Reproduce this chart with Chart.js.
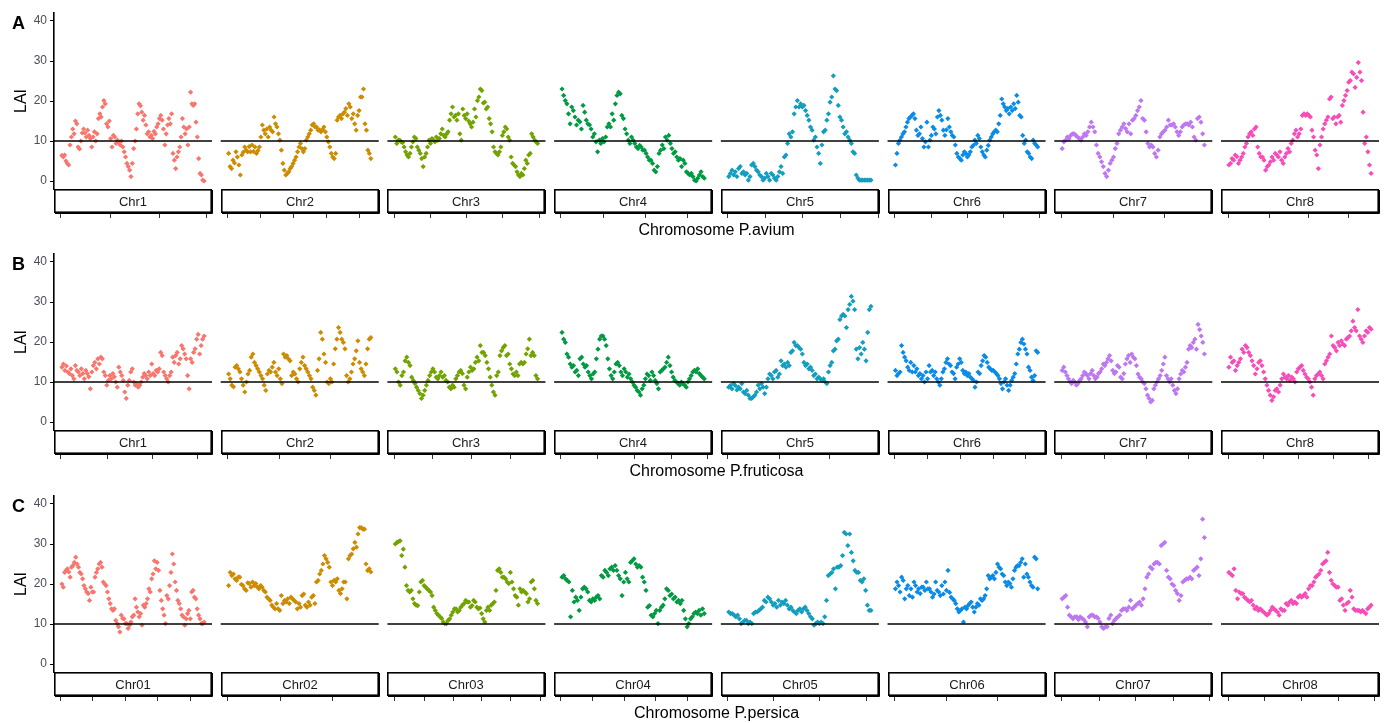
<!DOCTYPE html>
<html>
<head>
<meta charset="utf-8">
<script src="https://cdn.jsdelivr.net/npm/chart.js@4.4.0/dist/chart.umd.min.js"></script>
<style>
  body { margin: 0; background: #fff; width: 1387px; height: 723px; overflow: hidden; position: relative; }
  .row { position: absolute; left: 0; width: 1387px; height: 241px; }
</style>
</head>
<body>
<div class="row" style="top:0px"><canvas id="rowA" width="1387" height="241"></canvas></div>
<div class="row" style="top:241px"><canvas id="rowB" width="1387" height="241"></canvas></div>
<div class="row" style="top:483px"><canvas id="rowC" width="1387" height="241"></canvas></div>
<script>
// colours per chromosome (same in every panel)
const chrColors = ['#F8766D', '#CD8B00', '#72A300', '#019A42', '#139DBE', '#0A8BE8', '#BE77F2', '#F74DB8'];

const yTicks = [0, 10, 20, 30, 40];
const LAI_LINE = 10;

// ---- Panel A : P.avium ----
const avNames = ['Chr1', 'Chr2', 'Chr3', 'Chr4', 'Chr5', 'Chr6', 'Chr7', 'Chr8'];
const avChr1 = [6.4, 6.0, 6.5, 5.0, 4.4, 4.0, 9.0, 11.0, 13.0, 11.8, 15.0, 14.3, 8.5, 8.0, 10.0, 12.0, 13.0, 12.0, 11.0, 12.7, 11.4, 10.6, 8.5, 11.0, 12.3, 10.0, 11.8, 15.6, 16.8, 16.0, 18.5, 20.1, 19.3, 14.3, 13.5, 15.0, 10.6, 8.5, 11.4, 11.0, 9.4, 10.2, 9.8, 9.0, 10.0, 8.5, 7.3, 6.0, 4.4, 3.6, 2.7, 1.1, 4.4, 8.1, 10.0, 13.0, 16.8, 19.3, 18.8, 17.2, 15.2, 16.4, 14.0, 11.8, 12.3, 11.0, 11.4, 10.6, 12.4, 11.8, 13.5, 14.3, 15.6, 16.4, 15.2, 13.0, 9.0, 11.8, 14.0, 15.6, 14.3, 16.8, 6.9, 5.2, 3.1, 6.0, 7.3, 8.5, 11.0, 15.6, 13.5, 11.8, 13.0, 9.0, 13.5, 22.2, 19.3, 18.9, 19.3, 14.7, 11.0, 5.6, 1.9, 1.5, 0.2, 0.0];
const avChr2 = [6.9, 3.6, 3.1, 5.2, 4.5, 7.3, 6.0, 4.0, 1.5, 6.5, 7.2, 8.5, 7.7, 7.3, 8.6, 7.3, 9.0, 7.4, 8.5, 6.9, 7.6, 8.5, 11.0, 14.0, 12.7, 11.8, 13.0, 11.0, 13.5, 12.7, 12.3, 16.0, 14.3, 13.5, 11.8, 10.2, 7.7, 4.4, 2.7, 1.5, 1.9, 2.3, 3.1, 3.6, 4.4, 5.2, 6.0, 7.3, 8.5, 9.4, 8.1, 7.3, 8.1, 10.2, 11.0, 11.8, 12.7, 14.0, 14.3, 13.5, 13.5, 12.7, 12.8, 12.3, 12.8, 13.5, 12.3, 11.0, 9.8, 8.5, 6.9, 6.0, 5.6, 6.9, 15.2, 16.0, 16.4, 15.6, 16.8, 17.2, 18.1, 16.4, 19.3, 18.5, 15.6, 16.8, 14.3, 12.7, 16.4, 17.6, 21.0, 21.0, 23.0, 14.3, 12.7, 7.7, 6.9, 5.6];
const avChr3 = [11.0, 9.4, 10.2, 10.2, 9.8, 9.6, 8.5, 7.3, 6.5, 6.0, 6.9, 8.5, 9.8, 11.0, 10.6, 8.5, 7.7, 6.9, 5.6, 3.6, 6.0, 6.9, 8.5, 10.2, 9.4, 10.6, 10.2, 9.8, 11.0, 10.2, 10.6, 11.8, 13.0, 11.4, 11.0, 11.8, 12.3, 15.2, 16.8, 18.5, 16.0, 16.4, 15.2, 16.8, 11.8, 10.2, 18.0, 16.4, 15.6, 16.8, 15.0, 14.3, 13.5, 14.7, 18.0, 16.0, 20.1, 21.0, 23.0, 22.6, 19.5, 19.7, 18.0, 18.5, 15.6, 14.3, 12.3, 8.5, 7.3, 6.9, 6.5, 7.3, 8.5, 11.4, 12.3, 13.5, 13.0, 11.0, 10.2, 6.0, 4.4, 4.0, 3.6, 2.3, 1.5, 1.1, 1.9, 1.5, 3.1, 5.2, 4.4, 6.5, 6.9, 11.8, 11.0, 10.2, 9.8, 9.4];
const avChr4 = [23.0, 21.4, 20.1, 19.3, 16.8, 14.3, 18.5, 17.6, 16.0, 14.0, 15.2, 14.8, 13.0, 18.9, 17.2, 15.2, 14.3, 14.0, 13.0, 11.0, 11.8, 9.8, 7.3, 10.2, 9.4, 10.6, 9.8, 11.0, 13.5, 14.3, 13.5, 16.8, 15.2, 19.3, 21.4, 22.2, 21.8, 16.4, 15.6, 13.0, 11.8, 10.2, 9.4, 11.0, 10.2, 9.4, 8.5, 8.1, 8.9, 8.5, 7.7, 7.7, 6.9, 6.0, 5.2, 5.2, 4.4, 2.7, 2.3, 3.6, 6.9, 7.7, 9.0, 8.1, 11.0, 10.2, 11.4, 9.4, 8.1, 6.9, 7.3, 6.0, 5.2, 5.6, 3.6, 5.2, 4.4, 2.3, 1.9, 1.5, 1.9, 1.1, 0.2, 0.0, 0.7, 1.5, 2.3, 1.1, 0.7];
const avChr5 = [1.1, 1.9, 2.7, 1.5, 2.3, 1.1, 3.1, 3.6, 1.9, 2.3, 1.5, 1.9, 0.2, 1.1, 4.0, 4.4, 3.6, 2.7, 2.3, 1.5, 1.1, 0.2, 0.7, 1.9, 1.1, 0.2, 1.9, 1.5, 0.7, 0.2, 1.1, 2.3, 3.6, 1.9, 6.0, 6.5, 9.4, 11.8, 11.0, 12.3, 16.8, 18.5, 20.1, 18.5, 19.3, 18.5, 18.9, 17.6, 16.4, 15.2, 13.5, 12.7, 10.2, 11.0, 8.5, 6.9, 4.4, 9.0, 12.3, 12.7, 15.2, 16.8, 19.7, 21.0, 26.3, 23.0, 22.6, 18.9, 16.0, 15.2, 13.5, 11.8, 12.3, 11.0, 10.2, 9.4, 7.3, 6.9, 1.5, 0.7, 0.2, 0.2, 0.2, 0.2, 0.2, 0.2, 0.2, 0.2];
const avChr6 = [4.0, 6.9, 9.4, 10.2, 11.0, 11.8, 12.3, 13.5, 14.7, 15.6, 16.0, 16.4, 16.8, 15.6, 12.7, 11.4, 11.8, 13.5, 10.6, 8.5, 9.8, 14.7, 8.5, 10.2, 11.4, 13.5, 13.0, 11.8, 16.0, 17.6, 16.4, 15.2, 12.7, 11.4, 12.8, 15.6, 13.5, 12.3, 11.4, 11.0, 9.0, 6.9, 6.0, 5.6, 5.2, 6.5, 7.3, 6.9, 6.0, 6.5, 7.3, 8.5, 8.9, 10.2, 9.4, 11.4, 10.6, 8.5, 7.3, 6.5, 6.0, 7.7, 8.9, 10.2, 11.0, 11.8, 12.3, 12.7, 12.3, 14.3, 16.4, 20.5, 19.3, 18.5, 17.6, 18.1, 16.8, 18.5, 17.6, 19.3, 18.1, 21.4, 19.7, 16.4, 16.0, 11.4, 9.4, 10.2, 7.3, 6.9, 6.0, 5.6, 10.2, 9.4, 9.0, 8.5];
const avChr7 = [8.1, 9.8, 10.2, 11.0, 10.6, 11.4, 11.8, 11.8, 11.4, 11.0, 10.6, 10.2, 11.0, 11.8, 11.4, 12.3, 13.5, 14.7, 13.5, 12.3, 9.0, 6.9, 6.0, 4.8, 3.6, 1.9, 1.1, 2.7, 4.4, 5.2, 6.0, 8.1, 9.4, 11.8, 12.7, 13.5, 14.3, 13.1, 12.3, 14.3, 11.8, 15.2, 15.6, 16.4, 17.6, 18.5, 20.1, 15.6, 15.2, 12.3, 9.4, 8.5, 9.0, 8.5, 6.9, 6.0, 7.7, 11.0, 11.8, 12.3, 12.7, 13.5, 15.2, 14.0, 14.0, 14.3, 13.5, 12.3, 11.4, 12.3, 13.5, 14.0, 14.3, 14.3, 14.0, 14.7, 13.5, 11.0, 10.2, 15.6, 16.0, 14.7, 11.8, 9.0];
const avChr8 = [4.0, 4.4, 5.6, 5.2, 6.5, 6.1, 4.4, 5.2, 6.0, 6.9, 8.5, 9.4, 11.0, 11.8, 12.3, 11.4, 13.0, 13.5, 8.5, 6.9, 6.0, 6.0, 5.2, 2.7, 3.6, 4.0, 4.8, 6.0, 5.2, 6.9, 6.5, 6.0, 7.3, 5.2, 4.4, 6.0, 6.9, 8.1, 7.3, 9.4, 10.2, 11.8, 12.7, 11.0, 11.8, 13.0, 16.4, 16.8, 16.4, 16.8, 16.4, 16.0, 12.7, 11.0, 7.7, 6.5, 3.1, 9.0, 11.0, 13.0, 14.3, 15.2, 16.0, 20.5, 21.0, 15.6, 16.0, 14.3, 16.0, 16.4, 14.7, 18.9, 20.1, 21.4, 22.6, 24.7, 25.1, 27.2, 26.8, 23.4, 25.9, 29.6, 27.2, 25.1, 17.2, 9.4, 11.0, 7.3, 4.0, 1.9];
// x tick positions along each facet (0-100 of the facet width)
const avTicks = [[3.6, 35.3, 66.3, 96.4], [4.0, 25.1, 45.8, 66.5, 87.3], [3.9, 27.2, 50.0, 72.8, 95.8], [3.8, 30.8, 57.2, 84.0],
                 [3.8, 28.0, 51.6, 75.5, 99.4], [3.8, 27.2, 50.4, 73.2, 95.8], [4.2, 36.9, 69.6], [4.2, 30.2, 55.3, 80.2]];

// ---- Panel B : P.fruticosa ----
const frNames = ['Chr1', 'Chr2', 'Chr3', 'Chr4', 'Chr5', 'Chr6', 'Chr7', 'Chr8'];
const frChr1 = [13.7, 14.5, 12.9, 14.0, 12.5, 12.1, 13.3, 11.6, 10.8, 14.1, 12.9, 12.5, 11.6, 13.3, 12.1, 10.8, 12.9, 12.1, 11.3, 8.3, 12.5, 14.1, 14.9, 13.3, 15.8, 14.5, 16.2, 15.8, 12.5, 11.6, 9.2, 10.4, 11.6, 10.8, 12.1, 11.3, 10.0, 8.7, 13.7, 12.5, 11.6, 10.4, 7.5, 5.9, 9.2, 10.4, 12.5, 13.3, 10.0, 9.2, 9.6, 8.7, 9.2, 10.0, 11.2, 12.1, 11.6, 10.8, 12.5, 11.6, 14.5, 12.1, 11.6, 12.9, 12.5, 13.3, 17.4, 16.6, 12.5, 11.6, 10.8, 10.0, 11.6, 12.5, 16.2, 14.9, 16.6, 17.4, 14.5, 15.8, 19.1, 18.3, 17.0, 15.8, 11.6, 8.3, 15.8, 14.9, 17.4, 18.3, 20.7, 21.9, 17.0, 19.1, 20.7, 21.5];
const frChr2 = [12.0, 10.8, 9.2, 8.8, 13.7, 14.1, 13.3, 12.5, 10.8, 9.2, 7.5, 10.0, 12.0, 12.9, 16.2, 17.0, 14.9, 14.1, 13.3, 12.5, 11.6, 10.8, 9.2, 7.9, 12.0, 12.9, 12.5, 13.7, 14.9, 12.5, 11.6, 13.3, 10.8, 9.6, 17.0, 16.2, 16.6, 15.8, 15.3, 11.6, 12.5, 12.0, 10.8, 10.0, 13.3, 14.9, 16.2, 14.1, 13.3, 12.5, 11.6, 10.8, 8.7, 7.9, 6.7, 12.9, 15.8, 22.4, 20.7, 17.0, 14.9, 10.0, 9.6, 10.8, 10.0, 14.5, 18.3, 20.7, 23.6, 22.4, 20.7, 19.9, 18.3, 11.6, 10.0, 10.8, 12.5, 14.5, 15.8, 17.8, 20.3, 14.9, 13.3, 12.5, 11.6, 14.5, 18.3, 20.7, 21.1];
const frChr3 = [13.3, 12.5, 10.0, 9.2, 11.6, 12.5, 15.3, 16.2, 14.9, 14.1, 11.2, 10.4, 9.6, 8.7, 7.9, 7.1, 5.9, 6.7, 7.9, 9.2, 10.4, 11.6, 12.5, 13.3, 12.5, 11.2, 10.8, 11.6, 12.5, 11.2, 11.6, 10.4, 10.0, 8.7, 8.3, 9.2, 8.7, 10.8, 11.6, 12.5, 12.9, 12.1, 9.2, 8.3, 11.2, 12.5, 13.7, 12.9, 13.3, 14.9, 16.2, 15.3, 19.1, 17.4, 17.4, 16.6, 14.9, 13.3, 11.2, 9.2, 7.5, 6.7, 11.6, 12.5, 16.6, 17.8, 18.6, 19.1, 16.6, 17.0, 14.5, 13.3, 12.0, 11.6, 12.5, 11.6, 14.5, 14.9, 14.5, 14.9, 17.0, 18.3, 20.7, 16.6, 17.4, 16.6, 11.6, 10.8];
const frChr4 = [22.4, 20.7, 19.9, 17.0, 16.2, 14.5, 13.7, 14.1, 12.5, 12.9, 11.6, 15.8, 16.2, 14.5, 13.7, 14.1, 12.5, 11.6, 10.8, 12.0, 12.5, 15.8, 18.2, 20.7, 21.5, 21.5, 20.7, 19.1, 15.8, 13.3, 11.6, 10.8, 12.5, 14.5, 14.9, 14.1, 12.5, 11.6, 13.3, 12.5, 11.2, 12.0, 10.8, 10.0, 9.2, 8.7, 7.9, 7.5, 6.7, 8.3, 9.2, 10.8, 12.0, 11.6, 10.4, 12.5, 11.6, 10.4, 9.6, 8.3, 12.5, 12.9, 13.3, 13.7, 14.9, 16.2, 14.1, 12.5, 11.2, 10.4, 10.0, 9.6, 9.2, 10.0, 9.6, 9.2, 8.7, 10.0, 10.8, 11.6, 12.5, 12.9, 12.5, 13.3, 12.1, 11.6, 11.2, 10.8];
const frChr5 = [8.7, 9.1, 8.3, 9.6, 9.1, 8.0, 8.7, 8.3, 9.6, 7.5, 7.1, 7.9, 6.7, 5.9, 5.9, 6.3, 6.7, 7.5, 9.2, 8.3, 9.6, 8.7, 7.1, 8.7, 10.8, 12.0, 11.6, 10.8, 12.5, 12.9, 11.2, 12.0, 15.3, 14.1, 14.5, 13.7, 14.9, 14.1, 17.4, 17.8, 19.9, 19.1, 19.1, 18.6, 18.2, 17.0, 14.9, 14.1, 14.5, 13.3, 13.7, 12.9, 11.6, 12.0, 10.8, 11.2, 10.8, 10.4, 10.8, 10.0, 9.6, 12.5, 14.1, 14.9, 17.8, 18.2, 20.3, 20.7, 25.6, 26.5, 26.9, 26.5, 23.6, 28.1, 29.4, 31.4, 30.2, 28.1, 18.2, 15.8, 18.6, 17.0, 19.9, 18.2, 15.3, 22.4, 28.1, 28.9];
const frChr6 = [12.9, 11.6, 12.1, 12.5, 19.1, 17.4, 16.2, 15.3, 13.7, 12.9, 14.9, 12.5, 14.1, 12.5, 13.3, 11.6, 12.1, 10.8, 11.6, 10.0, 12.5, 10.8, 14.1, 12.5, 12.9, 11.6, 12.5, 10.8, 10.0, 9.2, 10.8, 12.5, 13.3, 14.9, 15.8, 14.5, 14.1, 12.5, 12.1, 10.8, 13.7, 14.5, 15.8, 14.9, 12.9, 12.1, 12.5, 11.6, 12.1, 11.2, 10.8, 10.4, 8.7, 10.0, 12.5, 12.1, 14.1, 15.3, 16.6, 16.2, 14.9, 13.7, 13.3, 12.9, 12.9, 12.5, 12.1, 11.6, 10.8, 9.6, 8.3, 10.0, 10.8, 9.2, 7.9, 9.2, 10.4, 11.2, 12.1, 14.5, 17.0, 18.2, 19.9, 20.7, 19.5, 18.2, 17.0, 13.7, 12.9, 11.2, 10.4, 11.6, 17.8, 17.4];
const frChr7 = [12.9, 13.7, 12.5, 11.6, 10.8, 10.0, 9.6, 10.4, 10.0, 9.2, 9.6, 10.4, 10.8, 11.6, 12.5, 12.1, 11.6, 10.8, 12.1, 12.9, 11.6, 10.8, 11.2, 12.1, 12.5, 13.3, 14.5, 14.1, 14.9, 15.8, 16.6, 15.3, 12.9, 12.1, 12.5, 14.1, 13.7, 11.2, 10.8, 12.1, 14.5, 15.8, 16.6, 14.9, 17.0, 16.2, 15.8, 14.1, 12.0, 11.2, 10.8, 10.0, 9.6, 8.3, 6.7, 5.9, 5.0, 5.4, 8.3, 9.2, 10.0, 10.8, 11.6, 12.9, 14.5, 16.2, 11.6, 10.8, 10.0, 10.8, 9.2, 7.9, 7.1, 8.3, 10.8, 12.0, 12.9, 12.5, 13.7, 14.9, 18.2, 19.1, 18.6, 19.9, 20.7, 18.2, 24.4, 23.1, 21.5, 19.9, 17.0];
const frChr8 = [13.7, 16.2, 14.9, 15.3, 12.9, 14.1, 14.9, 15.8, 18.2, 17.4, 19.1, 18.6, 17.4, 16.6, 15.3, 14.1, 12.0, 13.3, 14.9, 15.3, 14.1, 12.5, 10.8, 9.2, 7.9, 6.7, 5.4, 6.3, 7.9, 8.3, 7.5, 9.2, 10.8, 12.0, 11.2, 10.8, 11.6, 10.4, 11.2, 10.8, 10.0, 12.5, 13.3, 13.7, 14.1, 12.9, 12.0, 11.2, 10.8, 10.0, 8.7, 6.7, 10.8, 11.6, 12.0, 12.5, 11.6, 10.8, 14.5, 15.3, 16.2, 17.0, 21.5, 19.1, 18.6, 17.8, 19.9, 19.1, 20.3, 19.5, 19.1, 20.7, 21.1, 21.5, 22.8, 25.2, 23.6, 22.8, 28.1, 21.5, 20.7, 19.9, 21.5, 22.8, 22.4, 23.6, 23.2];
const frTicks = [[3.6, 33.5, 62.3, 90.5], [4.0, 37.0, 69.0], [4.0, 28.5, 52.8, 77.7], [3.8, 27.4, 50.6, 74.1, 97.0],
                 [3.8, 36.9, 68.5], [3.8, 25.1, 45.6, 67.0, 87.0], [4.2, 31.2, 58.0, 84.8], [4.2, 26.4, 49.0, 70.7, 93.3]];

// ---- Panel C : P.persica ----
const peNames = ['Chr01', 'Chr02', 'Chr03', 'Chr04', 'Chr05', 'Chr06', 'Chr07', 'Chr08'];
const peChr01 = [20.0, 19.2, 22.9, 23.4, 23.8, 23.0, 21.7, 24.2, 24.6, 25.4, 26.7, 25.0, 24.2, 22.9, 22.5, 21.3, 19.6, 18.8, 18.0, 17.6, 15.9, 19.2, 18.0, 18.0, 21.7, 22.9, 23.8, 25.0, 25.4, 24.2, 20.5, 20.0, 19.6, 18.0, 16.3, 15.1, 13.8, 13.4, 13.8, 10.9, 10.1, 9.3, 8.0, 12.2, 11.4, 11.3, 10.1, 10.1, 8.9, 9.7, 10.5, 11.8, 12.2, 16.3, 14.2, 13.0, 11.8, 12.6, 9.7, 14.7, 14.2, 15.1, 16.3, 18.8, 18.0, 21.3, 22.5, 25.8, 23.8, 25.4, 23.4, 18.4, 15.9, 13.8, 12.2, 10.1, 17.1, 16.3, 19.6, 22.9, 27.5, 25.0, 20.5, 18.4, 15.9, 15.1, 13.8, 12.2, 11.8, 9.7, 11.3, 12.6, 13.4, 11.3, 18.0, 18.4, 16.7, 16.3, 13.8, 12.2, 11.3, 10.1, 10.1, 10.5];
const peChr02 = [19.6, 22.9, 22.1, 22.5, 21.3, 20.9, 21.7, 21.7, 19.9, 19.6, 18.8, 18.4, 20.3, 20.1, 19.2, 20.5, 19.6, 20.1, 19.2, 18.8, 19.6, 19.2, 18.4, 18.0, 16.7, 16.3, 15.9, 14.7, 14.2, 13.8, 15.1, 13.8, 13.4, 17.1, 15.1, 15.9, 15.5, 16.3, 15.1, 16.7, 16.3, 15.9, 15.5, 13.8, 15.1, 14.2, 17.1, 17.5, 14.7, 14.2, 15.5, 14.7, 16.7, 17.1, 15.1, 20.5, 20.9, 22.5, 23.4, 25.0, 27.1, 26.3, 25.4, 24.2, 20.5, 19.6, 20.9, 20.5, 21.3, 18.4, 17.6, 18.8, 20.5, 20.5, 16.3, 26.3, 27.1, 27.5, 28.8, 30.4, 29.2, 32.5, 34.1, 34.1, 33.7, 33.7, 25.0, 23.4, 23.8, 23.0];
const peChr03 = [30.0, 30.4, 30.6, 30.8, 27.1, 28.7, 24.2, 19.6, 18.4, 18.0, 18.4, 16.3, 15.1, 14.7, 14.6, 18.0, 20.5, 20.9, 19.6, 19.2, 18.8, 18.4, 18.0, 17.1, 14.2, 13.4, 12.6, 12.2, 11.8, 11.4, 10.5, 10.1, 10.1, 10.9, 11.3, 12.2, 13.0, 13.8, 13.8, 13.0, 13.4, 14.2, 14.7, 15.1, 15.9, 15.5, 15.5, 14.2, 14.6, 15.9, 15.5, 14.2, 13.8, 14.0, 12.6, 11.3, 10.5, 13.4, 14.2, 13.4, 14.7, 15.1, 15.5, 18.4, 23.4, 23.8, 22.9, 21.7, 21.7, 21.3, 20.5, 20.1, 22.9, 20.5, 18.8, 17.1, 16.7, 14.7, 18.8, 18.0, 18.4, 18.0, 17.6, 15.5, 16.3, 20.5, 20.9, 18.8, 15.9, 15.1];
const peChr04 = [21.7, 22.1, 21.3, 20.9, 20.5, 11.8, 18.4, 15.5, 16.7, 15.9, 13.4, 16.7, 18.8, 19.2, 18.8, 18.0, 15.9, 15.5, 16.3, 15.9, 16.7, 17.1, 16.3, 22.1, 21.7, 23.4, 22.9, 22.1, 23.8, 24.2, 23.4, 24.6, 23.4, 22.1, 21.3, 17.1, 20.5, 22.9, 21.3, 20.5, 25.4, 25.8, 26.3, 25.0, 24.2, 24.6, 24.2, 21.7, 20.5, 18.4, 14.2, 14.6, 12.2, 11.8, 12.6, 13.4, 10.1, 13.4, 14.2, 14.7, 16.3, 18.8, 18.4, 17.1, 17.5, 16.3, 16.7, 15.5, 15.9, 15.1, 15.9, 13.4, 11.3, 9.3, 10.1, 11.3, 11.8, 12.6, 13.0, 12.6, 13.4, 12.2, 13.8, 12.6];
const peChr05 = [13.0, 12.6, 12.6, 12.2, 11.8, 12.2, 11.3, 10.1, 10.5, 10.9, 10.9, 10.1, 10.5, 10.1, 12.6, 13.0, 13.0, 13.4, 13.8, 14.2, 15.9, 15.5, 16.7, 16.3, 15.5, 14.7, 15.1, 14.2, 15.9, 14.7, 15.5, 15.1, 15.9, 14.7, 13.8, 14.2, 13.4, 13.0, 12.6, 13.4, 13.8, 13.0, 13.8, 14.2, 13.4, 12.6, 11.8, 11.3, 9.7, 10.1, 10.5, 10.1, 10.5, 10.1, 11.8, 15.9, 22.1, 22.5, 22.9, 23.8, 18.8, 24.2, 24.2, 24.6, 27.1, 32.9, 32.5, 29.6, 32.5, 27.9, 25.8, 23.4, 22.9, 22.9, 20.9, 20.5, 21.3, 18.4, 14.7, 13.4, 13.4];
const peChr06 = [18.8, 20.5, 19.6, 18.0, 21.7, 20.9, 16.3, 18.8, 19.6, 17.1, 18.8, 16.7, 20.5, 19.6, 18.0, 18.8, 17.6, 19.2, 19.2, 18.4, 20.5, 18.8, 18.8, 18.0, 16.7, 17.5, 20.5, 18.4, 18.0, 17.1, 19.6, 17.5, 20.5, 18.4, 23.4, 17.9, 16.7, 16.3, 15.9, 15.1, 13.8, 13.0, 13.4, 13.8, 10.5, 14.2, 13.8, 14.6, 15.1, 15.5, 14.2, 13.0, 14.2, 15.1, 14.7, 16.3, 15.9, 16.3, 17.1, 18.8, 22.1, 21.3, 21.7, 22.1, 21.3, 22.9, 25.0, 24.2, 23.8, 22.5, 22.1, 20.5, 19.6, 20.5, 20.1, 19.2, 21.3, 23.4, 24.2, 24.6, 24.6, 25.4, 26.3, 21.7, 25.0, 22.5, 21.7, 20.5, 19.6, 19.2, 26.7, 26.3, 18.8];
const peChr07 = [16.3, 16.7, 17.1, 14.2, 12.2, 11.8, 11.3, 11.8, 11.8, 11.1, 11.8, 11.4, 11.1, 10.5, 9.3, 11.8, 12.2, 12.2, 11.8, 11.8, 11.4, 10.5, 9.3, 8.9, 9.3, 9.3, 11.4, 12.2, 10.1, 10.9, 11.4, 11.8, 12.2, 13.4, 13.8, 13.8, 13.4, 14.2, 15.9, 13.8, 14.2, 14.7, 15.1, 15.5, 14.7, 16.3, 18.8, 21.7, 22.5, 24.2, 23.8, 25.0, 25.4, 25.4, 25.0, 29.6, 30.0, 30.4, 23.4, 21.7, 21.3, 20.0, 19.6, 18.4, 17.6, 15.9, 17.1, 20.5, 20.9, 21.3, 21.3, 21.7, 21.3, 23.4, 23.8, 24.2, 22.1, 26.3, 36.2, 31.6];
const peChr08 = [22.9, 22.5, 22.1, 23.8, 18.4, 16.3, 18.0, 17.6, 17.6, 16.7, 16.3, 15.9, 15.5, 15.9, 14.7, 13.8, 14.2, 13.4, 13.8, 13.4, 13.0, 12.6, 12.2, 12.6, 13.4, 14.2, 13.8, 13.4, 13.0, 12.2, 13.8, 13.4, 13.4, 15.1, 14.7, 15.5, 15.9, 15.1, 15.5, 15.1, 16.7, 17.1, 16.7, 17.1, 17.6, 16.7, 18.8, 19.6, 19.6, 20.5, 21.7, 22.1, 22.5, 23.4, 25.0, 25.4, 25.8, 27.9, 22.9, 20.9, 20.0, 19.6, 19.2, 19.2, 15.9, 16.3, 14.7, 13.4, 15.1, 15.5, 18.4, 16.7, 13.8, 13.4, 13.4, 13.4, 13.0, 13.4, 13.0, 12.6, 13.8, 14.2, 14.7];
const peTicks = [[3.6, 24.3, 44.7, 65.2, 85.9], [4.0, 37.3, 70.7], [4.0, 23.0, 41.6, 59.1, 77.7, 96.7], [3.8, 23.8, 43.9, 63.7, 83.8],
                 [3.8, 33.3, 62.4, 91.7], [3.8, 36.7, 69.4], [4.2, 28.0, 51.3, 74.9, 98.1], [4.2, 27.5, 50.7, 73.9, 97.1]];

// facets laid out side by side on one linear x scale
const FACET_W = 100, FACET_GAP = 5.5;
function facetStart(i) { return i * (FACET_W + FACET_GAP); }

const FONT = '"Liberation Sans", Arial, sans-serif';

// strips, x ticks, titles and panel tag
const facetDecor = {
  id: 'facetDecor',
  afterDraw(chart, args, opts) {
    const { ctx, chartArea } = chart;
    const x = chart.scales.x;
    const top = chartArea.bottom, h = 24;
    ctx.save();
    opts.names.forEach((name, i) => {
      const x0 = Math.round(x.getPixelForValue(facetStart(i)));
      const x1 = Math.round(x.getPixelForValue(facetStart(i) + FACET_W));
      ctx.fillStyle = '#fff';
      ctx.fillRect(x0, top, x1 - x0, h);
      ctx.strokeStyle = '#000';
      ctx.lineWidth = 1.6;
      ctx.strokeRect(x0 + 0.8, top + 0.8, x1 - x0 - 1.6, h - 1.6);
      ctx.lineWidth = 1;
      ctx.beginPath();
      ctx.moveTo(x1 + 0.5, top + 1);
      ctx.lineTo(x1 + 0.5, top + h + 0.5);
      ctx.lineTo(x0 + 1, top + h + 0.5);
      ctx.stroke();
      ctx.fillStyle = '#1a1a1a';
      ctx.font = '13px ' + FONT;
      ctx.textAlign = 'center';
      ctx.textBaseline = 'middle';
      ctx.fillText(name, (x0 + x1) / 2, top + h / 2 + 1);
      ctx.strokeStyle = '#333';
      opts.ticks[i].forEach(t => {
        const px = Math.round(x.getPixelForValue(facetStart(i) + t)) + 0.5;
        ctx.beginPath();
        ctx.moveTo(px, top + h + 1);
        ctx.lineTo(px, top + h + 5);
        ctx.stroke();
      });
    });
    ctx.fillStyle = '#000';
    ctx.textAlign = 'center';
    ctx.textBaseline = 'middle';
    ctx.font = '16px ' + FONT;
    ctx.fillText(opts.title, (chartArea.left + chartArea.right) / 2, top + 42);
    // y title
    ctx.save();
    ctx.translate(22, (chartArea.top + chartArea.bottom) / 2);
    ctx.rotate(-Math.PI / 2);
    ctx.fillText('LAI', 0, 0);
    ctx.restore();
    // panel tag
    ctx.font = 'bold 18px ' + FONT;
    ctx.fillText(opts.tag, 18.5, chartArea.top + 11);
    ctx.restore();
  }
};

function buildRow(canvasId, tag, title, names, series, ticks) {
  const datasets = [];
  series.forEach((vals, i) => {
    const off = facetStart(i);
    datasets.push({
      type: 'line',
      data: [{ x: off, y: LAI_LINE }, { x: off + FACET_W, y: LAI_LINE }],
      borderColor: '#000',
      borderWidth: 1.3,
      pointRadius: 0,
      order: 0
    });
    datasets.push({
      type: 'scatter',
      data: vals.map((v, k) => ({ x: off + 5 + 90 * k / (vals.length - 1), y: v })),
      backgroundColor: chrColors[i],
      borderWidth: 0,
      pointStyle: 'rectRot',
      pointRadius: 2.6,
      order: 1
    });
  });
  return new Chart(document.getElementById(canvasId), {
    type: 'scatter',
    data: { datasets },
    options: {
      responsive: false,
      animation: false,
      layout: { padding: { top: 13, bottom: 52, left: 0, right: 8 } },
      scales: {
        x: { type: 'linear', display: false, min: 0, max: facetStart(7) + FACET_W },
        y: {
          min: -2, max: 42,
          afterFit(scale) { scale.width = 54; },
          afterBuildTicks(scale) { scale.ticks = yTicks.map(v => ({ value: v })); },
          grid: { drawOnChartArea: false, drawTicks: true, tickLength: 4, color: '#000', lineWidth: 1 },
          border: { display: true, color: '#000', width: 1.6 },
          ticks: { color: '#4d4d5a', font: { size: 12, family: FONT }, padding: 3 }
        }
      },
      plugins: {
        legend: { display: false },
        tooltip: { enabled: false },
        facetDecor: { tag, title, names, ticks }
      }
    },
    plugins: [facetDecor]
  });
}

buildRow('rowA', 'A', 'Chromosome P.avium', avNames, [avChr1, avChr2, avChr3, avChr4, avChr5, avChr6, avChr7, avChr8], avTicks);
buildRow('rowB', 'B', 'Chromosome P.fruticosa', frNames, [frChr1, frChr2, frChr3, frChr4, frChr5, frChr6, frChr7, frChr8], frTicks);
buildRow('rowC', 'C', 'Chromosome P.persica', peNames, [peChr01, peChr02, peChr03, peChr04, peChr05, peChr06, peChr07, peChr08], peTicks);
</script>
</body>
</html>
